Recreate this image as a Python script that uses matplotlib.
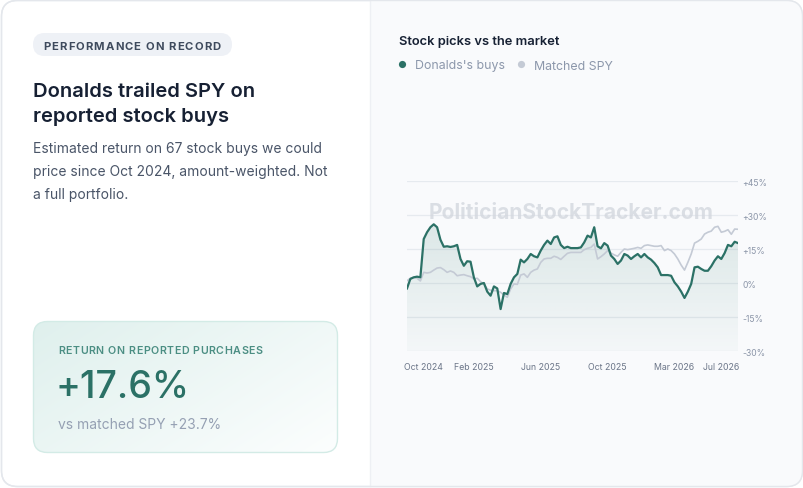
import matplotlib
matplotlib.use("Agg")
import matplotlib.pyplot as plt
import numpy as np
from matplotlib.patches import FancyBboxPatch, Rectangle, Circle
from matplotlib.colors import to_rgb

plt.rcParams['font.family'] = ['Inter', 'DejaVu Sans']

donalds = [-2.4, 1.8, 2.5, 2.8, 2.5, 19.4, 22.4, 24.6, 25.9, 24.6,
           19.1, 16.0, 16.2, 15.9, 16.2, 16.8, 10.6, 7.6, 9.6, 9.4,
           2.5, -1.5, -0.4, 0.0, -3.8, -5.6, -1.5, -2.4, -11.5, -4.4,
           -4.9, -0.4, 2.5, 4.0, 10.3, 9.1, 10.6, 12.8, 11.8, 11.3,
           14.3, 16.8, 18.7, 17.2, 20.1, 20.6, 16.8, 15.4, 16.0, 15.4,
           15.4, 15.4, 15.7, 17.9, 20.9, 20.1, 24.6, 16.2, 15.3, 17.6,
           16.5, 12.1, 10.6, 8.4, 9.9, 12.8, 12.1, 10.6, 11.8, 12.8,
           11.3, 12.8, 11.3, 10.3, 8.8, 6.9, 3.5, 3.5, 3.5, 3.2,
           0.3, -1.5, -3.8, -6.6, -3.8, -0.4, 6.9, 7.2, 6.2, 5.4,
           5.4, 7.4, 9.9, 11.8, 10.6, 13.2, 16.8, 16.2, 18.2, 17.6]
spy = [1.0, 2.1, 2.5, 2.1, 0.9, 4.7, 4.4, 4.7, 5.7, 6.6,
       6.8, 5.9, 4.7, 5.3, 4.7, 3.2, 3.5, 3.7, 3.2, 2.8,
       1.8, 2.1, 0.6, -0.4, -2.6, -3.2, -3.4, -3.4, -4.1, -5.3,
       -6.3, -2.6, -0.4, -0.6, 3.5, 4.0, 2.5, 4.7, 5.7, 6.2,
       9.1, 10.6, 10.9, 10.9, 11.8, 11.3, 10.4, 11.8, 13.1, 13.5,
       13.5, 13.5, 13.5, 14.7, 15.3, 15.7, 17.2, 10.6, 11.6, 12.8,
       14.3, 13.2, 12.4, 11.8, 13.5, 15.0, 14.7, 15.0, 15.3, 15.7,
       15.3, 16.5, 16.8, 16.5, 16.2, 16.2, 16.5, 14.3, 15.0, 14.3,
       12.8, 10.6, 7.9, 5.7, 9.1, 12.8, 17.6, 18.4, 19.4, 21.6,
       22.4, 22.9, 24.6, 25.0, 22.4, 22.8, 23.5, 21.5, 23.8, 23.7]
tick_pos = [5, 20, 40, 60, 80, 94]
tick_labels = ["Oct 2024", "Feb 2025", "Jun 2025", "Oct 2025", "Mar 2026", "Jul 2026"]
y_ticks = [-30, -15, 0, 15, 30, 45]
y_labels = ["-30%", "-15%", "0%", "+15%", "+30%", "+45%"]

W, H = 804, 489
GREEN = "#2b7166"
GREY = "#c4cad5"

fig = plt.figure(figsize=(W / 100, H / 100), dpi=100)
fig.patch.set_facecolor("white")
renderer = fig.canvas.get_renderer()

# background axes in pixel coordinates
bg = fig.add_axes([0, 0, 1, 1])
bg.set_xlim(0, W)
bg.set_ylim(H, 0)
bg.axis("off")


def text_width(s, **kw):
    t = fig.text(0, 0, s, **kw)
    w = t.get_window_extent(renderer).width
    t.remove()
    return w


def spaced_text(x, y, s, spacing, **kw):
    # caps with letter-spacing, placed one glyph at a time
    ref = text_width("x", **kw)
    for i, ch in enumerate(s):
        off = text_width(s[:i] + "x", **kw) - ref if i else 0
        bg.text(x + off + spacing * i, y, ch, va="baseline", **kw)


card = FancyBboxPatch((1.5, 1.5), W - 3, H - 3, boxstyle="round,pad=0,rounding_size=16",
                      facecolor="white", edgecolor="#e4e7ec", lw=1.0, zorder=1)
bg.add_patch(card)
right = Rectangle((370, 0), W - 370, H, facecolor="#f9fafc", edgecolor="none", zorder=1.5)
bg.add_patch(right)
right.set_clip_path(card)
bg.plot([370, 370], [2, H - 2], color="#eef0f4", lw=1.0, zorder=1.6)
card2 = FancyBboxPatch((1.5, 1.5), W - 3, H - 3, boxstyle="round,pad=0,rounding_size=16",
                       facecolor="none", edgecolor="#e4e7ec", lw=1.0, zorder=1.7)
bg.add_patch(card2)

# left panel
pill = FancyBboxPatch((33, 34), 199, 23, boxstyle="round,pad=0,rounding_size=11.5",
                      facecolor="#eef1f6", edgecolor="none", zorder=2)
bg.add_patch(pill)
spaced_text(43, 49.5, "PERFORMANCE ON RECORD", 1.1, fontsize=8.1, fontweight="bold",
            color="#3e4a5d", zorder=3)

bg.text(33, 97, "Donalds trailed SPY on", fontsize=14.5, fontweight="semibold",
        color="#162033", va="baseline", zorder=3)
bg.text(33, 122, "reported stock buys", fontsize=14.5, fontweight="semibold",
        color="#162033", va="baseline", zorder=3)
desc = ["Estimated return on 67 stock buys we could",
        "price since Oct 2024, amount-weighted. Not",
        "a full portfolio."]
for i, line in enumerate(desc):
    bg.text(33, 153.3 + 23 * i, line, fontsize=10.0, color="#4a5568", va="baseline", zorder=3)

# metric box with diagonal gradient
box = FancyBboxPatch((33.5, 322.5), 304, 131, boxstyle="round,pad=0,rounding_size=14",
                     facecolor="none", edgecolor="#d3ebe6", lw=1.0, zorder=3)
bg.add_patch(box)
gx, gy = np.meshgrid(np.linspace(0, 1, 200), np.linspace(0, 1, 100))
t = np.clip(0.6 * gx + 0.4 * gy, 0, 1)
c0 = np.array(to_rgb("#dff0ed"))
c1 = np.array(to_rgb("#fcfefe"))
grad = c0[None, None, :] * (1 - t[..., None]) + c1[None, None, :] * t[..., None]
im = bg.imshow(grad, extent=[33.5, 337.5, 453.5, 322.5], aspect="auto", zorder=2.5,
               interpolation="bilinear")
im.set_clip_path(box)
bg.set_xlim(0, W)
bg.set_ylim(H, 0)

spaced_text(58, 354.3, "RETURN ON REPORTED PURCHASES", 0.6, fontsize=7.7,
            fontweight="semibold", color="#4b8e83", zorder=4)
bg.text(56, 398, "+17.6%", fontsize=27, fontweight="medium", color=GREEN,
        va="baseline", zorder=4)
bg.text(58, 429, "vs matched SPY +23.7%", fontsize=10.0, color="#95a0b3",
        va="baseline", zorder=4)

# right panel header and legend
bg.text(399, 45, "Stock picks vs the market", fontsize=9.3, fontweight="semibold",
        color="#172134", va="baseline", zorder=4)
bg.add_patch(Circle((402.5, 65.5), 3.6, facecolor=GREEN, edgecolor="none", zorder=4))
bg.text(415, 69.5, "Donalds's buys", fontsize=8.9, color="#8c97ab", va="baseline", zorder=4)
bg.add_patch(Circle((521.5, 65.5), 3.6, facecolor=GREY, edgecolor="none", zorder=4))
bg.text(534, 69.5, "Matched SPY", fontsize=8.9, color="#8c97ab", va="baseline", zorder=4)

# chart axes
x0, x1, ytop, ybot = 407, 738, 182, 352
ax = fig.add_axes([x0 / W, 1 - ybot / H, (x1 - x0) / W, (ybot - ytop) / H])
ax.patch.set_alpha(0)
x = np.arange(len(donalds))
for s in ax.spines.values():
    s.set_visible(False)
for yv in y_ticks:
    ax.axhline(yv, color="#e6eaef", lw=0.9, zorder=0)

fill = ax.fill_between(x, donalds, -30, facecolor="none", edgecolor="none")
alpha = np.linspace(0.03, 0.17, 256)[:, None]
rgba = np.zeros((256, 1, 4))
rgba[..., :3] = to_rgb("#4b8c80")
rgba[..., 3] = alpha
gim = ax.imshow(rgba, extent=[0, len(donalds) - 1, -30, max(donalds)], origin="lower",
                aspect="auto", zorder=1, interpolation="bilinear")
gim.set_clip_path(fill.get_paths()[0], transform=ax.transData)
ax.set_xlim(0, len(donalds) - 1)
ax.set_ylim(-30, 45)

ax.text(0.496, 0.82, "PoliticianStockTracker.com", transform=ax.transAxes, ha="center",
        va="center", fontsize=15.1, fontweight="bold", color="#d3d7de", alpha=0.8, zorder=2)

ax.plot(x, spy, color=GREY, lw=1.2, zorder=3, solid_joinstyle="round")
ax.plot(x, donalds, color=GREEN, lw=1.6, zorder=4, solid_joinstyle="round")

ax.yaxis.tick_right()
ax.set_yticks(y_ticks)
ax.set_yticklabels(y_labels)
ax.tick_params(axis="y", length=0, pad=3, labelsize=6.2, labelcolor="#8b95a8")
ax.set_xticks(tick_pos)
ax.set_xticklabels(tick_labels)
ax.tick_params(axis="x", length=0, pad=8, labelsize=6.3, labelcolor="#6b7588")

fig.savefig("out.png", dpi=100)
